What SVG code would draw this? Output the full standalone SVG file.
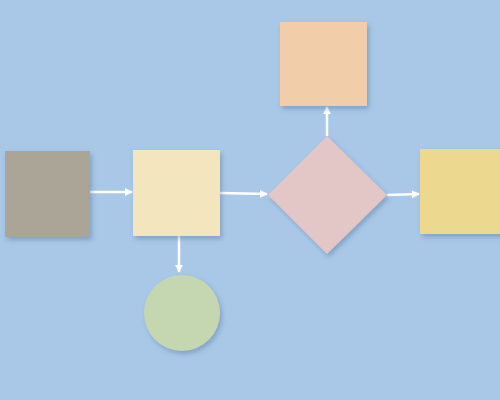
<svg xmlns="http://www.w3.org/2000/svg" width="500" height="400" viewBox="0 0 500 400">
<defs>
<filter id="sh" x="-20%" y="-20%" width="150%" height="150%">
<feDropShadow dx="2" dy="3" stdDeviation="2.5" flood-color="#3a5a80" flood-opacity="0.35"/>
</filter>
<marker id="ah" viewBox="0 0 10 10" refX="9" refY="5" markerWidth="3.2" markerHeight="3.2" orient="auto" markerUnits="strokeWidth">
<path d="M0,0 L10,5 L0,10 Z" fill="#ffffff"/>
</marker>
<style>
.c{stroke:#ffffff;stroke-width:2.5;fill:none;marker-end:url(#ah)}
</style>
</defs>
<rect x="0" y="0" width="500" height="400" fill="#a9c8e8"/>
<g id="connectors">
<line class="c" x1="90" y1="192" x2="132" y2="192"/>
<line class="c" x1="220" y1="193" x2="267" y2="194"/>
<line class="c" x1="179" y1="236" x2="179" y2="272"/>
<line class="c" x1="327" y1="136" x2="327" y2="107"/>
<line class="c" x1="387" y1="195" x2="419" y2="194"/>
</g>
<g id="node-gray"><rect x="5" y="151" width="85" height="86" fill="#aaa597" filter="url(#sh)"/></g>
<g id="node-cream"><rect x="133" y="150" width="87" height="86" fill="#f3e5bd" filter="url(#sh)"/></g>
<g id="node-circle"><circle cx="182" cy="313" r="38" fill="#c4d7b1" filter="url(#sh)"/></g>
<g id="node-diamond"><polygon points="327,136 387,195 327,254 268,195" fill="#e3c7c6" filter="url(#sh)"/></g>
<g id="node-peach"><rect x="280" y="22" width="87" height="84" fill="#f1cea9" filter="url(#sh)"/></g>
<g id="node-yellow"><rect x="420" y="149" width="82" height="85" fill="#ecd98f" filter="url(#sh)"/></g>
</svg>
